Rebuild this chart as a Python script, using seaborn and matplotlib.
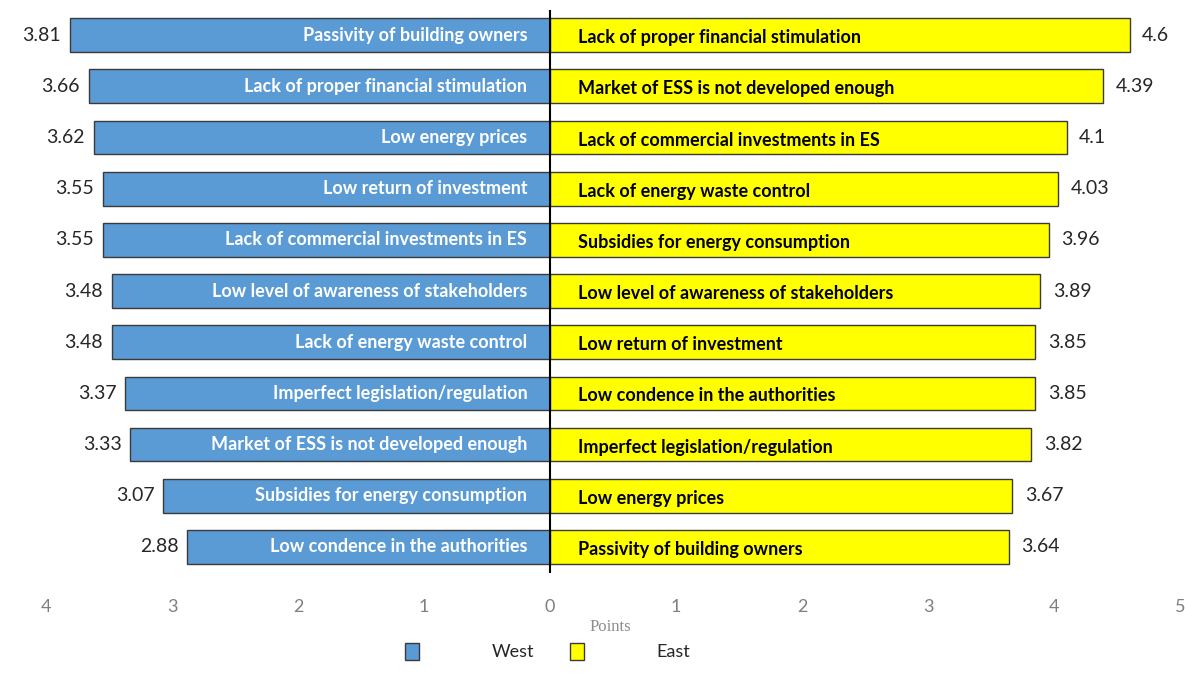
import numpy as np
import pandas as pd
import matplotlib
matplotlib.use('Agg')
import matplotlib.pyplot as plt
import seaborn as sns
from matplotlib.patches import Patch
from matplotlib.ticker import FuncFormatter

# data (rank 0 = top row)
west_labels = ['Passivity of building owners', 'Lack of proper financial stimulation',
               'Low energy prices', 'Low return of investment',
               'Lack of commercial investments in ES', 'Low level of awareness of stakeholders',
               'Lack of energy waste control', 'Imperfect legislation/regulation',
               'Market of ESS is not developed enough', 'Subsidies for energy consumption',
               'Low condence in the authorities']
west_values = [3.81, 3.66, 3.62, 3.55, 3.55, 3.48, 3.48, 3.37, 3.33, 3.07, 2.88]

east_labels = ['Lack of proper financial stimulation', 'Market of ESS is not developed enough',
               'Lack of commercial investments in ES', 'Lack of energy waste control',
               'Subsidies for energy consumption', 'Low level of awareness of stakeholders',
               'Low return of investment', 'Low condence in the authorities',
               'Imperfect legislation/regulation', 'Low energy prices',
               'Passivity of building owners']
east_values = [4.6, 4.39, 4.1, 4.03, 3.96, 3.89, 3.85, 3.85, 3.82, 3.67, 3.64]

regions = ['West', 'East']
colors = {'West': '#5B9BD5', 'East': '#FFFF00'}

n = len(west_values)
df = pd.concat([
    pd.DataFrame({'rank': range(n), 'region': 'West', 'value': west_values,
                  'signed': -np.array(west_values), 'label': west_labels}),
    pd.DataFrame({'rank': range(n), 'region': 'East', 'value': east_values,
                  'signed': np.array(east_values), 'label': east_labels}),
])

sns.set_theme(style='white')
plt.rcParams['font.family'] = ['Lato', 'DejaVu Sans']

fig = plt.figure(figsize=(11.85, 6.8), dpi=100)
ax = fig.add_axes([0.0335, 0.158, 0.9623, 0.828])

sns.barplot(data=df, x='signed', y='rank', hue='region', hue_order=regions,
            palette=colors, saturation=1, orient='h', dodge=False, width=0.66,
            edgecolor='#3a3a3a', linewidth=1.0, legend=False, ax=ax)

ax.axvline(0, color='black', lw=1.5, zorder=5)

for _, r in df.iterrows():
    if r['region'] == 'West':
        ax.text(-0.18, r['rank'], r['label'], ha='right', va='center',
                color='white', fontsize=13, fontweight='bold')
        ax.text(r['signed'] - 0.07, r['rank'], f"{r['value']:g}", ha='right', va='center',
                color='#262626', fontsize=14)
    else:
        ax.text(0.22, r['rank'] + 0.05, r['label'], ha='left', va='center',
                color='black', fontsize=13, fontweight='bold')
        ax.text(r['signed'] + 0.1, r['rank'], f"{r['value']:g}", ha='left', va='center',
                color='#262626', fontsize=14)

ax.set_xlim(-4.05, 5.0)
ax.set_ylim(n - 0.5, -0.5)
ax.set_xticks(range(-4, 6))
ax.xaxis.set_major_formatter(FuncFormatter(lambda v, p: f"{abs(v):g}"))
ax.tick_params(axis='x', length=0, pad=19, labelsize=13, labelcolor='#7f7f7f')
ax.set_yticks([])
ax.set_ylabel('')
ax.set_xlabel('Points', family='Liberation Serif', fontsize=12, color='#8c8c8c', labelpad=3)
for s in ax.spines.values():
    s.set_visible(False)

handles = [Patch(facecolor=colors[k], edgecolor='#3a3a3a', label=k) for k in regions]
fig.legend(handles=handles, loc='center', bbox_to_anchor=(0.462, 0.042), ncol=2,
           frameon=False, fontsize=13, handlelength=0.8, handleheight=1.1,
           handletextpad=4.0, columnspacing=2.0)

fig.savefig('out.png', dpi=100)
